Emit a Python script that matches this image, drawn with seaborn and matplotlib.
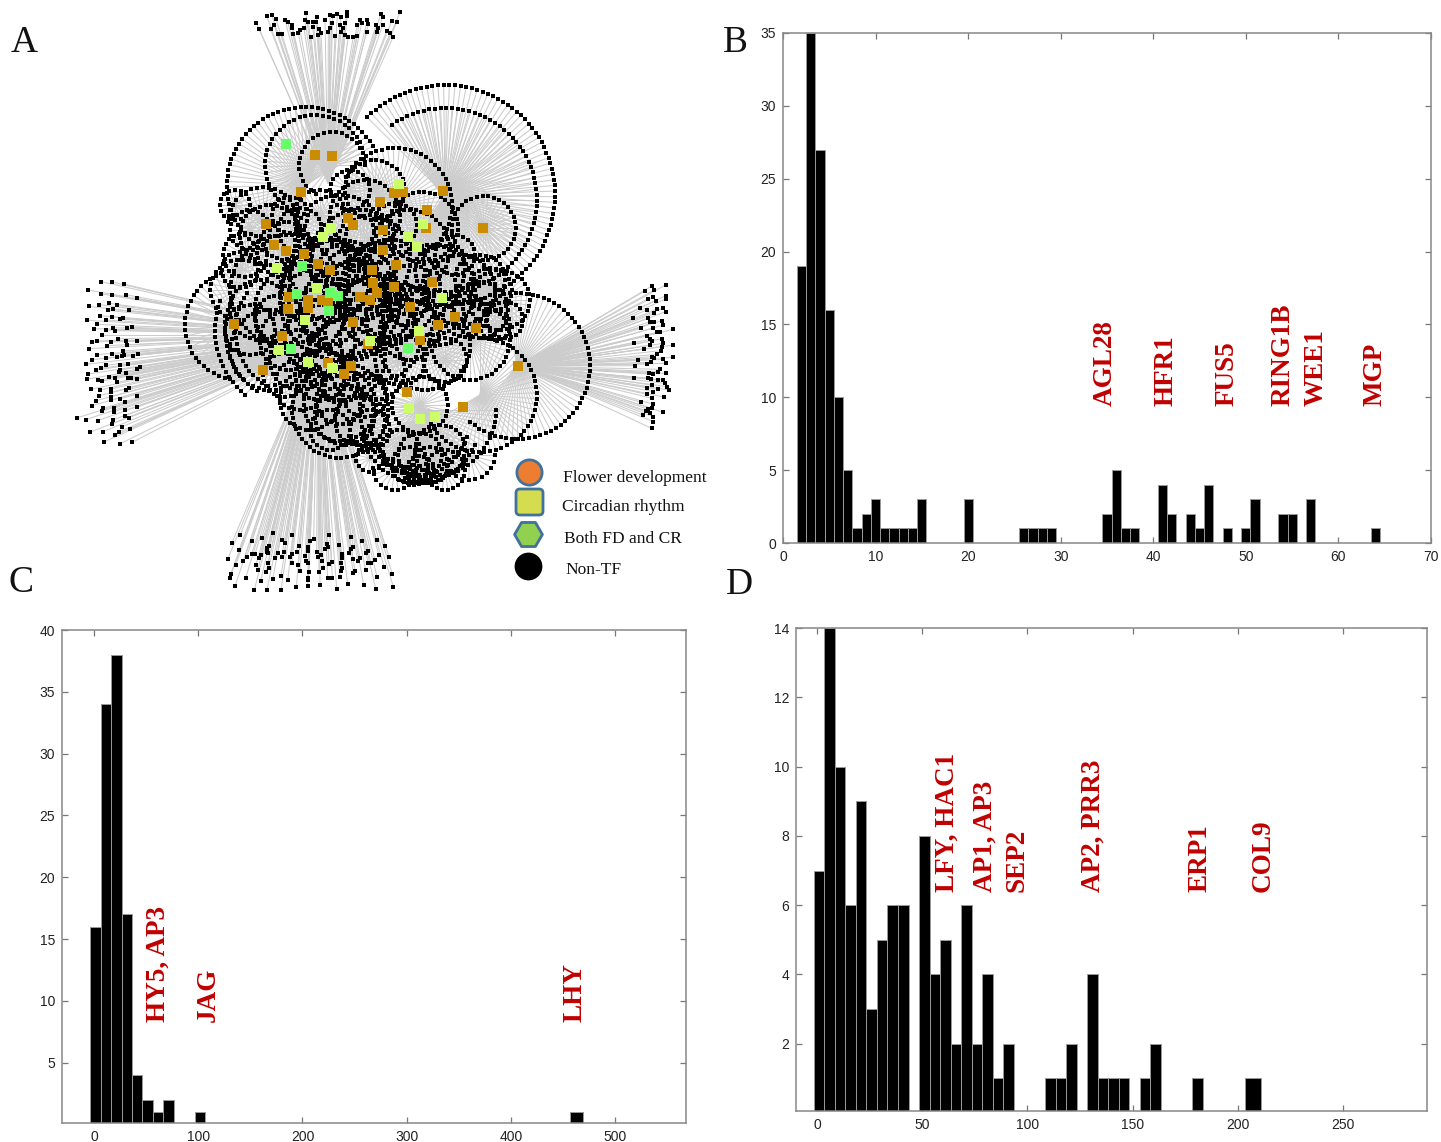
import numpy as np
import pandas as pd
import matplotlib
matplotlib.use("Agg")
import matplotlib.pyplot as plt
from matplotlib.collections import LineCollection
from matplotlib.patches import FancyBboxPatch
import seaborn as sns

W, H = 1441, 1142

# ---------- histogram data ----------
b_bins = [2,3,4,5,6,7,8,9,10,11,12,13,14,15,20,26,27,28,29,35,36,37,38,41,42,44,45,46,48,50,51,54,55,57,64]
b_counts = [19,35,27,16,10,5,1,2,3,1,1,1,1,3,3,1,1,1,1,2,5,1,1,4,2,2,1,4,1,1,3,2,2,3,1]
c_bins = [2,12,22,32,42,52,62,72,102,463]
c_counts = [16,34,38,17,4,2,1,2,1,1]
d_bins = [1,6,11,16,21,26,31,36,41,51,56,61,66,71,76,81,86,91,111,116,121,131,136,141,146,156,161,181,206]
d_counts = [7,14,10,6,9,3,5,6,6,8,4,5,2,6,2,4,1,2,1,1,2,4,1,1,1,1,2,1,1]

b_labels = ["AGL28", "HFR1", "FUS5", "RING1B", "WEE1", "MGP"]
c_labels = ["HY5, AP3", "JAG", "LHY"]
d_labels = ["LFY, HAC1", "AP1, AP3", "SEP2", "AP2, PRR3", "ERP1", "COL9"]
legend_labels = ["Flower development", "Circadian rhythm", "Both FD and CR", "Non-TF"]

# ---------- network data (pixel coordinates) ----------
left_nodes = [(93,20),(126,21),(161,27),(55,45),(92,56),(127,60),(167,59),(200,70),(56,94),(88,89),(118,85),(142,91),(115,106),(130,103),(177,106),(90,122),(108,135),(125,126),(52,136),(150,132),(160,130),(82,148),(72,161),(108,165),(130,158),(135,167),(172,160),(185,157),(97,180),(66,201),(80,198),(110,212),(122,201),(143,191),(168,198),(170,210),(202,199),(56,221),(80,239),(108,249),(127,238),(142,246),(155,243),(160,228),(163,240),(190,242),(205,236),(47,268),(65,254),(108,271),(78,285),(92,280),(150,270),(174,267),(150,285),(148,292),(210,275),(200,282),(55,297),(50,313),(85,315),(97,318),(117,306),(135,308),(167,293),(175,309),(182,309),(200,311),(142,322),(63,343),(90,345),(123,342),(123,352),(176,338),(168,346),(88,362),(123,365),(123,376),(150,372),(200,362),(78,377),(65,392),(165,382),(100,400),(97,408),(131,400),(133,410),(165,406),(202,396),(20,429),(47,434),(83,437),(128,435),(125,447),(165,422),(177,428),(157,455),(148,470),(180,461),(59,472),(99,470),(135,481),(102,501),(149,507),(187,502)]
top_nodes = [(18,53),(28,73),(50,33),(65,30),(78,43),(72,60),(62,73),(85,88),(95,86),(105,45),(113,50),(125,60),(127,68),(128,88),(145,85),(150,75),(162,70),(168,25),(165,45),(175,50),(190,50),(200,35),(198,50),(188,65),(183,97),(205,90),(213,85),(208,72),(225,45),(240,30),(248,33),(245,55),(240,68),(235,80),(255,93),(262,27),(272,37),(290,22),(292,32),(285,55),(270,60),(280,70),(273,80),(285,90),(295,95),(310,95),(322,93),(322,60),(330,45),(335,55),(352,45),(355,58),(350,80),(378,60),(385,70),(380,80),(392,28),(398,35),(398,60),(410,78),(425,48),(440,52),(450,22),(420,85),(430,95)]
bottom_nodes = [(45,16),(20,40),(80,34),(110,24),(143,8),(172,30),(180,40),(200,14),(222,47),(248,50),(255,32),(266,28),(312,15),(306,42),(308,52),(300,58),(343,45),(378,20),(410,32),(455,30),(480,47),(42,60),(8,88),(32,105),(55,92),(65,80),(80,72),(90,72),(108,75),(102,85),(93,105),(98,120),(127,55),(133,48),(125,65),(130,70),(158,70),(178,67),(150,85),(170,80),(130,98),(132,113),(123,127),(200,72),(215,67),(195,82),(240,77),(250,63),(275,65),(288,75),(280,80),(290,92),(243,92),(250,100),(200,100),(220,105),(225,122),(252,127),(320,95),(312,102),(347,98),(350,72),(350,85),(378,58),(385,52),(372,68),(430,62),(422,70),(462,75),(492,80),(384,88),(405,85),(398,92),(450,90),(430,100),(438,100),(352,115),(348,122),(282,127),(295,115),(390,122),(385,128),(422,120),(478,112),(502,132),(17,132),(14,145),(62,144),(107,152),(143,148),(168,138),(188,150),(250,145),(248,150),(308,145),(322,143),(345,140),(456,140),(30,168),(88,180),(126,180),(168,180),(214,170),(248,168),(285,165),(335,176),(368,162),(416,164),(452,176),(505,170)]
right_nodes = [(82,17),(122,15),(60,32),(88,30),(122,47),(122,57),(68,57),(85,52),(92,62),(45,85),(65,90),(96,87),(88,100),(113,85),(122,95),(23,115),(70,115),(75,125),(88,127),(110,122),(115,135),(48,145),(83,145),(145,148),(96,157),(106,157),(65,168),(75,178),(112,176),(80,183),(26,188),(75,195),(114,190),(112,200),(145,195),(58,207),(108,212),(96,223),(80,230),(88,235),(145,232),(115,238),(38,240),(122,250),(30,257),(65,252),(78,247),(105,268),(98,275),(72,280),(122,280),(85,283),(70,295),(28,295),(78,297),(98,300),(114,300),(120,310),(125,320),(132,330),(65,323),(80,315),(98,328),(85,335),(65,343),(116,351),(82,355),(48,367),(83,372),(80,385),(70,388),(62,392),(53,405),(75,400),(115,397),(85,410),(85,425),(80,445)]

# ring: centre x, centre y, radius, first angle, last angle (deg, clockwise from east)
rings = [
 (445,195,110,-135,125),(445,200,92,-125,115),(395,205,57,-150,60),
 (305,185,78,90,330),(315,165,50,110,340),(332,165,33,120,360),
 (517,366,73,-100,130),(480,395,57,-90,150),(420,405,28,0,360),
 (428,410,68,0,200),(420,420,50,20,170),(420,425,58,20,170),(420,430,45,30,160),
 (240,325,55,100,250),(300,330,65,120,215),(300,330,75,125,205),(300,330,85,130,200),
 (285,290,55,0,360),(340,300,60,0,360),(300,310,45,0,360),(390,290,50,0,360),
 (430,290,45,0,360),(360,260,50,0,360),(340,240,45,0,360),(410,250,40,0,360),
 (460,290,35,0,360),(480,310,28,0,360),(320,340,35,0,360),(380,340,40,0,360),
 (425,345,45,0,360),(470,340,40,0,360),(270,350,40,0,360),(300,360,30,0,360),
 (345,360,40,0,360),(340,410,48,0,360),(340,405,36,0,360),(340,400,24,0,360),
 (320,270,30,0,360),(365,215,35,0,360),(355,290,30,0,360),(365,300,20,0,360),
 (360,280,15,0,360),(350,275,25,0,360),(375,265,22,0,360),(270,235,30,0,360),
 (263,222,35,180,360),(423,227,35,-60,300),(484,228,32,0,360),(410,330,30,0,360),
 (440,320,25,0,360),(285,250,28,0,360),(300,230,22,0,360),(490,290,22,0,360),
 (500,300,30,0,360),(240,290,30,120,300),
 (330,280,40,0,360),(345,310,45,0,360),(375,310,35,0,360),(390,320,25,0,360),
 (310,290,30,0,360),(330,320,25,0,360),(355,330,30,0,360),(395,270,30,0,360),
 (370,240,25,0,360),(340,265,20,0,360),(300,275,18,0,360),(280,320,25,0,360),
 (260,310,30,0,360),(250,330,25,0,360),(290,340,30,0,360),(320,375,25,0,360),
 (375,370,30,0,360),(400,360,25,0,360),(445,360,22,0,360),(440,270,25,0,360),
 (410,290,25,0,360),(405,305,20,0,360),(465,315,22,0,360),(495,325,15,0,360),
 (480,280,25,0,360),(505,320,18,0,360),(455,255,20,0,360),(395,225,22,0,360),
 (320,215,25,0,360),(350,190,20,0,360),(375,190,30,0,360),(290,215,18,0,360),
 (245,255,22,0,360),(250,230,20,0,360),(235,205,15,0,360),(240,270,18,0,360),
 (300,385,25,0,360),(285,375,22,0,360),(340,385,18,0,360),(365,395,22,0,360),
 (310,400,30,0,360),(330,430,20,0,360),(345,415,30,0,360),(360,420,25,0,360),
 (370,430,20,0,360),(420,455,22,0,360),(410,465,18,0,360),(430,465,18,0,360),
 (420,470,14,0,360),(440,450,25,0,360),(400,450,20,0,360),(445,470,20,0,360),
 (415,475,10,0,360),(370,458,14,0,360),(395,468,22,0,180),(470,455,25,0,140),
]

orange_hubs = [(315,75),(365,78),(272,185),(553,190),(578,187),(700,182),(510,217),(168,282),(193,345),(228,362),(282,372),(323,403),(415,265),(430,285),(650,240),(520,300),(648,295),(820,295),(518,360),(558,405),(487,420),(490,460),(500,490),(480,510),(552,470),(666,455),(238,500),(233,537),(295,535),(295,510),(335,510),(355,515),(450,500),(430,575),(600,530),(735,560),(685,585),(798,593),(73,583),(215,617),(630,630),(473,643),(160,720),(355,700),(423,708),(403,733),(590,787),(760,830),(360,420),(924,708)]
yellow_hubs = [(568,163),(640,283),(593,320),(620,350),(340,322),(320,475),(285,570),(207,660),(480,632),(628,603),(695,505),(295,695),(365,715),(597,835),(630,868),(675,860),(363,293),(200,415)]
green_hubs = [(229,42),(277,408),(385,498),(360,490),(595,655),(242,658),(358,543),(260,492)]

def crop(points, x0, y0):
    a = np.asarray(points, float) / 3.0
    return a + [x0, y0]

def axes_px(fig, l, t, r, b):
    return fig.add_axes([l / W, 1 - b / H, (r - l) / W, (b - t) / H])

sns.set_theme(style="ticks")
plt.rcParams["font.family"] = ["Liberation Sans", "DejaVu Sans"]
fig = plt.figure(figsize=(W / 100, H / 100), dpi=100, facecolor="white")

# ---------- panel A ----------
ax = fig.add_axes([0, 0, 1, 1], zorder=0)
ax.set_xlim(0, W); ax.set_ylim(H, 0); ax.axis("off")

segs = []
ring_pts = []
for cx, cy, r, a0, a1 in rings:
    n = max(6, int(abs(np.radians(a1 - a0)) * r / 5.6))
    ang = np.radians(np.linspace(a0, a1, n, endpoint=(a1 - a0) < 360))
    pts = np.c_[cx + r * np.cos(ang), cy + r * np.sin(ang)]
    ring_pts.append(pts)
    segs += [[(cx, cy), tuple(p)] for p in pts]
ring_pts = np.vstack(ring_pts)

left = crop(left_nodes, 70, 275)
top = crop(top_nodes, 250, 5)
bottom = crop(bottom_nodes, 225, 530)
right = crop(right_nodes, 625, 280)
for pts, hub in ((left, (340, 335)), (top, (328, 183)), (bottom, (318, 340)), (right, (518, 366))):
    segs += [[hub, tuple(p)] for p in pts]
ax.add_collection(LineCollection(segs, colors="#cccccc", linewidths=0.75, zorder=1))

nodes = np.vstack([ring_pts, left, top, bottom, right])
sns.scatterplot(x=nodes[:, 0], y=nodes[:, 1], ax=ax, marker="s", s=12, color="black", linewidth=0, zorder=2)
for hubs, col in ((orange_hubs, "#CC8C00"), (yellow_hubs, "#CCFF66"), (green_hubs, "#66FF66")):
    p = crop(hubs, 210, 130)
    sns.scatterplot(x=p[:, 0], y=p[:, 1], ax=ax, marker="s", s=58, color=col, linewidth=0, zorder=3)

edge = "#41719C"
ax.scatter([529], [472], s=330, c="#ED7D31", edgecolors=edge, linewidths=2, zorder=4)
ax.add_patch(FancyBboxPatch((516, 489), 27, 26, boxstyle="round,pad=0,rounding_size=4",
                            fc="#D4DC50", ec=edge, lw=2, zorder=4))
ax.scatter([528], [534], s=400, c="#92D050", marker="H", edgecolors=edge, linewidths=2, zorder=4)
ax.scatter([528], [566], s=400, c="black", linewidths=0, zorder=4)
for (tx, ty), s in zip([(563, 478), (562, 507), (564, 539), (565, 570)], legend_labels):
    ax.text(tx, ty, s, family="Liberation Serif", fontsize=12.5, color="#111111", va="center", ha="left", zorder=5)

# ---------- histograms ----------
def hist(rect, centers, counts, edges, xlim, ylim, xticks, yticks):
    a = axes_px(fig, *rect)
    df = pd.DataFrame({"bin": centers, "count": counts})
    sns.histplot(data=df, x="bin", weights="count", bins=[float(e) for e in edges], ax=a, color="black",
                 edgecolor="#999999", linewidth=0.7, alpha=1)
    a.set_xlim(*xlim); a.set_ylim(*ylim)
    a.set_xticks(xticks); a.set_yticks(yticks)
    a.set_xlabel(""); a.set_ylabel("")
    a.tick_params(direction="in", top=True, right=True, length=4, width=0.9,
                  color="#777777", labelsize=10, labelcolor="#222222", pad=5)
    for s in a.spines.values():
        s.set_visible(True); s.set_color("#888888"); s.set_linewidth(1.1)
    return a

hist((783, 33, 1431, 543), b_bins, b_counts, np.arange(1.5, 65.5, 1), (0, 70), (0, 35),
     np.arange(0, 71, 10), np.arange(0, 36, 5))
c_edges = [-3.5, 6.5, 16.5, 26.5, 36.5, 46.5, 56.5, 66.5, 76.5, 96.5, 106.5, 457, 469]
hist((62, 630, 686, 1123), c_bins, c_counts, c_edges, (-30.7, 568), (0.12, 40),
     np.arange(0, 501, 100), np.arange(5, 41, 5))
d_edges = list(np.arange(-1.5, 206, 5)) + [211]
hist((796, 628, 1427, 1111), d_bins, d_counts, d_edges, (-10, 290), (0.06, 14),
     np.arange(0, 251, 50), np.arange(2, 15, 2))

# ---------- annotations ----------
def red(labels, xs, base):
    for s, x in zip(labels, xs):
        fig.text((x + 3) / W, 1 - base / H, s, rotation=90, ha="center", va="bottom", color="#C00000",
                 family="Liberation Serif", weight="bold", fontsize=19.5, zorder=10)

red(b_labels, [1102, 1163, 1224, 1280, 1313, 1372], 406)
red(c_labels, [155, 205, 572], 1022)
red(d_labels, [944, 982, 1014, 1090, 1197, 1260], 892)

for s, x, y in (("A", 11, 52), ("B", 723, 52), ("C", 9, 592), ("D", 726, 594)):
    fig.text(x / W, 1 - y / H, s, family="Liberation Serif", fontsize=27, color="#111111", ha="left", va="baseline")

fig.savefig("out.png", dpi=100, facecolor="white")
